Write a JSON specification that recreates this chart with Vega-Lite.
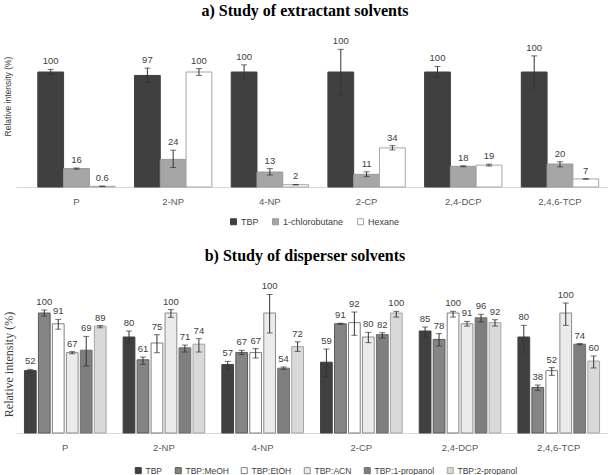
{
  "$schema": "https://vega.github.io/schema/vega-lite/v6.json",
  "padding": {"left": 2, "top": 3, "right": 0, "bottom": 0},
  "background": "white",
  "spacing": 21,
  "config": {
    "view": {"stroke": null},
    "font": "Liberation Sans",
    "axisX": {"title": null, "labelAngle": 0, "ticks": false, "domainColor": "#d9d9d9", "labelFont": "Liberation Sans", "labelFontSize": 9.5, "labelColor": "#595959", "labelPadding": 9, "grid": false},
    "axisY": {"labels": false, "ticks": false, "domain": false, "grid": false, "titleFontWeight": "normal", "titleColor": "#404040"},
    "legend": {"title": null, "orient": "none", "direction": "horizontal", "symbolType": "square", "symbolSize": 36, "labelFont": "Liberation Sans", "labelFontSize": 9, "labelColor": "#404040", "labelOffset": 3, "symbolStrokeWidth": 1, "symbolOpacity": 1}
  },
  "resolve": {"scale": {"x": "independent", "y": "independent", "xOffset": "independent", "fill": "independent", "stroke": "independent"}, "legend": {"fill": "independent", "stroke": "independent"}},
  "datasets": {
    "a": [
      {"c": "P", "s": "TBP", "v": 100, "lo": 97.8, "hi": 102.3, "t": "100"},
      {"c": "P", "s": "1-chlorobutane", "v": 16, "lo": 15.5, "hi": 16.5, "t": "16"},
      {"c": "P", "s": "Hexane", "v": 0.6, "lo": 0.4, "hi": 0.8, "t": "0.6"},
      {"c": "2-NP", "s": "TBP", "v": 97, "lo": 91, "hi": 103.4, "t": "97"},
      {"c": "2-NP", "s": "1-chlorobutane", "v": 24, "lo": 17, "hi": 32, "t": "24"},
      {"c": "2-NP", "s": "Hexane", "v": 100, "lo": 97, "hi": 103, "t": "100"},
      {"c": "4-NP", "s": "TBP", "v": 100, "lo": 94, "hi": 106.2, "t": "100"},
      {"c": "4-NP", "s": "1-chlorobutane", "v": 13, "lo": 10.4, "hi": 16, "t": "13"},
      {"c": "4-NP", "s": "Hexane", "v": 2, "lo": 1.8, "hi": 2.2, "t": "2"},
      {"c": "2-CP", "s": "TBP", "v": 100, "lo": 80.4, "hi": 119.7, "t": "100"},
      {"c": "2-CP", "s": "1-chlorobutane", "v": 11, "lo": 9, "hi": 13.2, "t": "11"},
      {"c": "2-CP", "s": "Hexane", "v": 34, "lo": 32.2, "hi": 36, "t": "34"},
      {"c": "2,4-DCP", "s": "TBP", "v": 100, "lo": 95.3, "hi": 104.8, "t": "100"},
      {"c": "2,4-DCP", "s": "1-chlorobutane", "v": 18, "lo": 17.6, "hi": 18.4, "t": "18"},
      {"c": "2,4-DCP", "s": "Hexane", "v": 19, "lo": 18.2, "hi": 19.8, "t": "19"},
      {"c": "2,4,6-TCP", "s": "TBP", "v": 100, "lo": 86, "hi": 114, "t": "100"},
      {"c": "2,4,6-TCP", "s": "1-chlorobutane", "v": 20, "lo": 17.5, "hi": 22, "t": "20"},
      {"c": "2,4,6-TCP", "s": "Hexane", "v": 7, "lo": 6.8, "hi": 7.2, "t": "7"}
    ],
    "b": [
      {"c": "P", "d": "TBP", "v": 52, "lo": 50.5, "hi": 53, "t": "52"},
      {"c": "P", "d": "TBP:MeOH", "v": 100, "lo": 97.5, "hi": 102.5, "t": "100"},
      {"c": "P", "d": "TBP:EtOH", "v": 91, "lo": 86.5, "hi": 94.7, "t": "91"},
      {"c": "P", "d": "TBP:ACN", "v": 67, "lo": 66, "hi": 67.8, "t": "67"},
      {"c": "P", "d": "TBP:1-propanol", "v": 69, "lo": 55.8, "hi": 80.5, "t": "69"},
      {"c": "P", "d": "TBP:2-propanol", "v": 89, "lo": 87.7, "hi": 89.5, "t": "89"},
      {"c": "2-NP", "d": "TBP", "v": 80, "lo": 75.3, "hi": 85, "t": "80"},
      {"c": "2-NP", "d": "TBP:MeOH", "v": 61, "lo": 57.2, "hi": 63.3, "t": "61"},
      {"c": "2-NP", "d": "TBP:EtOH", "v": 75, "lo": 66.9, "hi": 81.9, "t": "75"},
      {"c": "2-NP", "d": "TBP:ACN", "v": 100, "lo": 96.4, "hi": 102.8, "t": "100"},
      {"c": "2-NP", "d": "TBP:1-propanol", "v": 71, "lo": 67.5, "hi": 73.3, "t": "71"},
      {"c": "2-NP", "d": "TBP:2-propanol", "v": 74, "lo": 67.5, "hi": 78.6, "t": "74"},
      {"c": "4-NP", "d": "TBP", "v": 57, "lo": 53.2, "hi": 59.7, "t": "57"},
      {"c": "4-NP", "d": "TBP:MeOH", "v": 67, "lo": 65.3, "hi": 68.9, "t": "67"},
      {"c": "4-NP", "d": "TBP:EtOH", "v": 67, "lo": 62.5, "hi": 70.3, "t": "67"},
      {"c": "4-NP", "d": "TBP:ACN", "v": 100, "lo": 83.3, "hi": 115.5, "t": "100"},
      {"c": "4-NP", "d": "TBP:1-propanol", "v": 54, "lo": 53, "hi": 55, "t": "54"},
      {"c": "4-NP", "d": "TBP:2-propanol", "v": 72, "lo": 68, "hi": 76, "t": "72"},
      {"c": "2-CP", "d": "TBP", "v": 59, "lo": 47, "hi": 70, "t": "59"},
      {"c": "2-CP", "d": "TBP:MeOH", "v": 91, "lo": 90.5, "hi": 91.5, "t": "91"},
      {"c": "2-CP", "d": "TBP:EtOH", "v": 92, "lo": 81.4, "hi": 100.8, "t": "92"},
      {"c": "2-CP", "d": "TBP:ACN", "v": 80, "lo": 75.3, "hi": 83.9, "t": "80"},
      {"c": "2-CP", "d": "TBP:1-propanol", "v": 82, "lo": 79.1, "hi": 83.6, "t": "82"},
      {"c": "2-CP", "d": "TBP:2-propanol", "v": 100, "lo": 96.6, "hi": 101.4, "t": "100"},
      {"c": "2,4-DCP", "d": "TBP", "v": 85, "lo": 80, "hi": 88.3, "t": "85"},
      {"c": "2,4-DCP", "d": "TBP:MeOH", "v": 78, "lo": 72.5, "hi": 82.8, "t": "78"},
      {"c": "2,4-DCP", "d": "TBP:EtOH", "v": 100, "lo": 96.6, "hi": 101.4, "t": "100"},
      {"c": "2,4-DCP", "d": "TBP:ACN", "v": 91, "lo": 89.1, "hi": 93, "t": "91"},
      {"c": "2,4-DCP", "d": "TBP:1-propanol", "v": 96, "lo": 92.5, "hi": 98.9, "t": "96"},
      {"c": "2,4-DCP", "d": "TBP:2-propanol", "v": 92, "lo": 89.1, "hi": 94.4, "t": "92"},
      {"c": "2,4,6-TCP", "d": "TBP", "v": 80, "lo": 67.5, "hi": 89.7, "t": "80"},
      {"c": "2,4,6-TCP", "d": "TBP:MeOH", "v": 38, "lo": 35.5, "hi": 40, "t": "38"},
      {"c": "2,4,6-TCP", "d": "TBP:EtOH", "v": 52, "lo": 48, "hi": 54.5, "t": "52"},
      {"c": "2,4,6-TCP", "d": "TBP:ACN", "v": 100, "lo": 89.7, "hi": 108.3, "t": "100"},
      {"c": "2,4,6-TCP", "d": "TBP:1-propanol", "v": 74, "lo": 73.5, "hi": 74.5, "t": "74"},
      {"c": "2,4,6-TCP", "d": "TBP:2-propanol", "v": 60, "lo": 54.2, "hi": 64.2, "t": "60"}
    ]
  },
  "vconcat": [
    {
      "title": {"text": "a) Study of extractant solvents", "font": "Liberation Serif", "fontSize": 16, "fontWeight": "bold", "color": "black", "dx": -7, "offset": 7},
      "width": 592,
      "height": 161,
      "data": {"name": "a"},
      "encoding": {
        "x": {"field": "c", "type": "nominal", "sort": ["P", "2-NP", "4-NP", "2-CP", "2,4-DCP", "2,4,6-TCP"], "scale": {"paddingInner": 0.2, "paddingOuter": 0.161, "align": 0.7}},
        "xOffset": {"field": "s", "type": "nominal", "sort": ["TBP", "1-chlorobutane", "Hexane"], "scale": {"paddingInner": 0, "paddingOuter": 0}}
      },
      "layer": [
        {
          "mark": {"type": "bar", "strokeWidth": 1},
          "encoding": {
            "y": {"field": "v", "type": "quantitative", "scale": {"domain": [0, 135]}, "title": "Relative intensity (%)", "axis": {"titleFont": "Liberation Sans", "titleFontSize": 8.5, "titlePadding": 4, "titleY": 70}},
            "fill": {"field": "s", "type": "nominal", "scale": {"domain": ["TBP", "1-chlorobutane", "Hexane"], "range": ["#404040", "#a6a6a6", "#ffffff"]}, "legend": {"legendX": 213, "legendY": 191, "columnPadding": 11}},
            "stroke": {"field": "s", "type": "nominal", "scale": {"domain": ["TBP", "1-chlorobutane", "Hexane"], "range": ["#404040", "#999999", "#a6a6a6"]}, "legend": {"legendX": 213, "legendY": 191, "columnPadding": 11}}
          }
        },
        {
          "mark": {"type": "rule", "color": "#333333", "strokeWidth": 1},
          "encoding": {"y": {"field": "lo", "type": "quantitative", "title": "Relative intensity (%)"}, "y2": {"field": "hi"}}
        },
        {
          "mark": {"type": "tick", "color": "#333333", "size": 6, "thickness": 1},
          "encoding": {"y": {"field": "lo", "type": "quantitative", "title": "Relative intensity (%)"}}
        },
        {
          "mark": {"type": "tick", "color": "#333333", "size": 6, "thickness": 1},
          "encoding": {"y": {"field": "hi", "type": "quantitative", "title": "Relative intensity (%)"}}
        },
        {
          "mark": {"type": "text", "baseline": "bottom", "dy": -3, "font": "Liberation Sans", "fontSize": 9.5, "color": "#404040"},
          "encoding": {"y": {"field": "hi", "type": "quantitative", "title": "Relative intensity (%)"}, "text": {"field": "t"}}
        }
      ]
    },
    {
      "title": {"text": "b) Study of disperser solvents", "font": "Liberation Serif", "fontSize": 16, "fontWeight": "bold", "color": "black", "dx": -7, "offset": 13},
      "width": 592,
      "height": 156,
      "data": {"name": "b"},
      "encoding": {
        "x": {"field": "c", "type": "nominal", "sort": ["P", "2-NP", "4-NP", "2-CP", "2,4-DCP", "2,4,6-TCP"], "scale": {"paddingInner": 0.173, "paddingOuter": 0.0855, "align": 0.5}},
        "xOffset": {"field": "d", "type": "nominal", "sort": ["TBP", "TBP:MeOH", "TBP:EtOH", "TBP:ACN", "TBP:1-propanol", "TBP:2-propanol"], "scale": {"paddingInner": 0.16, "paddingOuter": 0}}
      },
      "layer": [
        {
          "mark": {"type": "bar", "strokeWidth": 1},
          "encoding": {
            "y": {"field": "v", "type": "quantitative", "scale": {"domain": [0, 130]}, "title": "Relative intensity (%)", "axis": {"titleFont": "Liberation Serif", "titleFontSize": 12, "titlePadding": 1, "titleY": 87}},
            "fill": {"field": "d", "type": "nominal", "scale": {"domain": ["TBP", "TBP:MeOH", "TBP:EtOH", "TBP:ACN", "TBP:1-propanol", "TBP:2-propanol"], "range": ["#404040", "#858585", "#ffffff", "#ebebeb", "#7f7f7f", "#d9d9d9"]}, "legend": {"legendX": 118, "legendY": 189, "columnPadding": 10, "labelFontSize": 8.5}},
            "stroke": {"field": "d", "type": "nominal", "scale": {"domain": ["TBP", "TBP:MeOH", "TBP:EtOH", "TBP:ACN", "TBP:1-propanol", "TBP:2-propanol"], "range": ["#404040", "#5a5a5a", "#7f7f7f", "#8c8c8c", "#6e6e6e", "#a6a6a6"]}, "legend": {"legendX": 118, "legendY": 189, "columnPadding": 10, "labelFontSize": 8.5}}
          }
        },
        {
          "mark": {"type": "rule", "color": "#333333", "strokeWidth": 1},
          "encoding": {"y": {"field": "lo", "type": "quantitative", "title": "Relative intensity (%)"}, "y2": {"field": "hi"}}
        },
        {
          "mark": {"type": "tick", "color": "#333333", "size": 6, "thickness": 1},
          "encoding": {"y": {"field": "lo", "type": "quantitative", "title": "Relative intensity (%)"}}
        },
        {
          "mark": {"type": "tick", "color": "#333333", "size": 6, "thickness": 1},
          "encoding": {"y": {"field": "hi", "type": "quantitative", "title": "Relative intensity (%)"}}
        },
        {
          "mark": {"type": "text", "baseline": "bottom", "dy": -3, "font": "Liberation Sans", "fontSize": 9.5, "color": "#404040"},
          "encoding": {"y": {"field": "hi", "type": "quantitative", "title": "Relative intensity (%)"}, "text": {"field": "t"}}
        }
      ]
    }
  ]
}
